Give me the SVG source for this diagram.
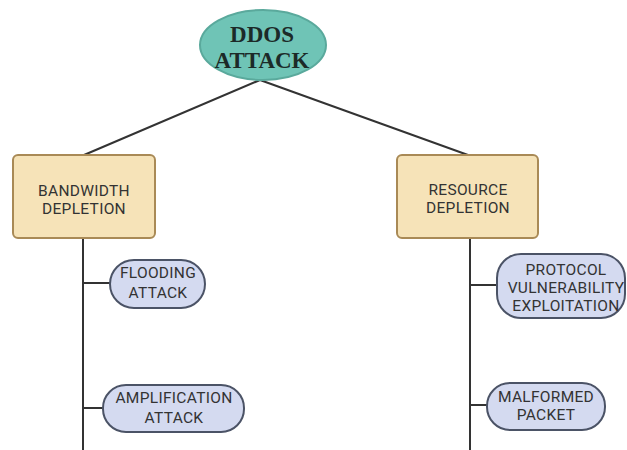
<svg xmlns="http://www.w3.org/2000/svg" width="627" height="450" viewBox="0 0 627 450">
<style>
.ln{stroke:#333;stroke-width:2;fill:none}
.box{fill:#f6e3b8;stroke:#a98a56;stroke-width:2}
.pill{fill:#d4daf0;stroke:#4b5366;stroke-width:2}
.t{font-family:Roboto,"Liberation Sans",sans-serif;font-size:15.5px;letter-spacing:0.3px;fill:#333;text-anchor:middle}
.tt{font-family:"Liberation Serif",serif;font-size:23px;font-weight:bold;fill:#1c2a28;text-anchor:middle}
</style>
<rect width="627" height="450" fill="#fff"/>
<g id="connectors">
<path class="ln" d="M260 80 L84 155 M260 80 L468 155"/>
<path class="ln" d="M83 238 V450 M83 283 H110 M83 408 H103"/>
<path class="ln" d="M470 238 V450 M470 285 H497 M470 405 H487"/>
</g>
<g id="ddos">
<ellipse cx="263" cy="45" rx="63" ry="35" fill="#6fc4b6" stroke="#5aa99c" stroke-width="2"/>
<text class="tt" x="262" y="42">DDOS</text>
<text class="tt" x="262" y="68">ATTACK</text>
</g>
<g id="bandwidth">
<rect class="box" x="13" y="155" width="142" height="83" rx="5"/>
<text class="t" x="84" y="196">BANDWIDTH</text>
<text class="t" x="84" y="214">DEPLETION</text>
</g>
<g id="resource">
<rect class="box" x="397" y="155" width="141" height="83" rx="5"/>
<text class="t" x="468" y="195">RESOURCE</text>
<text class="t" x="468" y="213">DEPLETION</text>
</g>
<g id="flooding">
<rect class="pill" x="110" y="260" width="95" height="48" rx="24"/>
<text class="t" x="158" y="278">FLOODING</text>
<text class="t" x="158" y="298">ATTACK</text>
</g>
<g id="amplification">
<rect class="pill" x="103" y="385" width="141" height="47" rx="23"/>
<text class="t" x="174" y="403">AMPLIFICATION</text>
<text class="t" x="174" y="423">ATTACK</text>
</g>
<g id="protocol">
<rect class="pill" x="497" y="254" width="128" height="64" rx="24"/>
<text class="t" x="566" y="275">PROTOCOL</text>
<text class="t" x="566" y="293">VULNERABILITY</text>
<text class="t" x="566" y="311">EXPLOITATION</text>
</g>
<g id="malformed">
<rect class="pill" x="487" y="383" width="118" height="47" rx="23"/>
<text class="t" x="546" y="402">MALFORMED</text>
<text class="t" x="546" y="420">PACKET</text>
</g>
</svg>
